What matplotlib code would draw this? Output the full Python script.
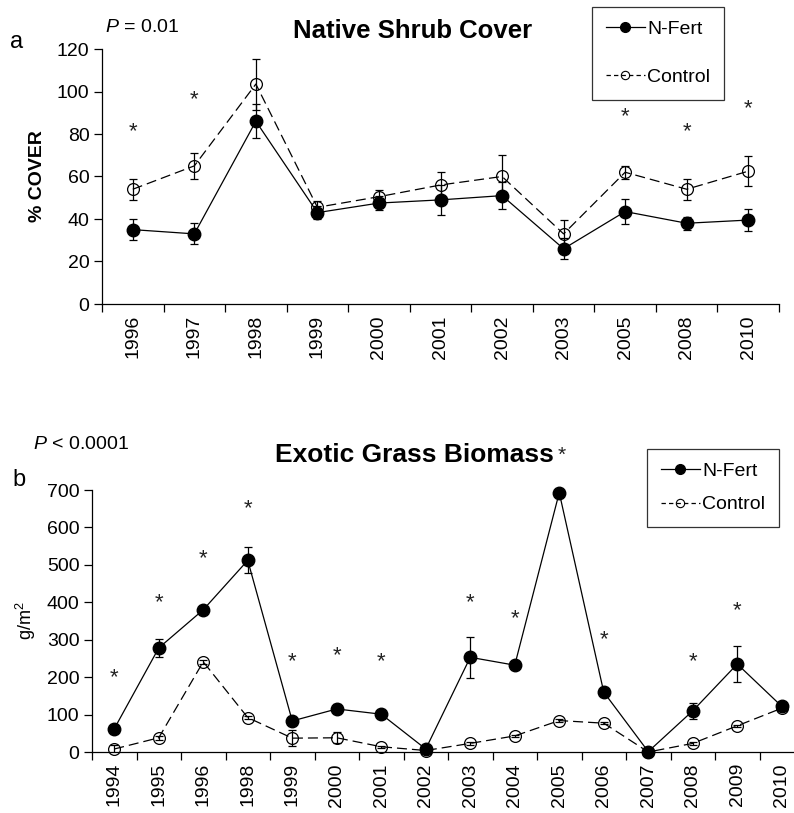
import numpy as np
import matplotlib
matplotlib.use("Agg")
import matplotlib.pyplot as plt
from matplotlib.lines import Line2D

plt.rcParams["font.family"] = ["Liberation Sans", "DejaVu Sans"]
plt.rcParams["mathtext.fontset"] = "custom"
plt.rcParams["mathtext.it"] = "Liberation Sans:italic"
plt.rcParams["mathtext.rm"] = "Liberation Sans"

# panel a: native shrub cover (%)
years_a = ["1996", "1997", "1998", "1999", "2000", "2001", "2002", "2003", "2005", "2008", "2010"]
nfert_a = [35, 33, 86, 43, 47.5, 49, 51, 26, 43.5, 38, 39.5]
nfert_a_err = [5, 5, 8, 3, 3.5, 7, 6.5, 5, 6, 3, 5]
control_a = [54, 65, 103.5, 45.5, 50.5, 56, 60, 33, 62, 54, 62.5]
control_a_err = [5, 6, 12, 3, 3, 6, 10, 6.5, 3, 5, 7]
star_years_a = ["1996", "1997", "2005", "2008", "2010"]
star_vals_a = [81, 96, 88, 81, 92]

# panel b: exotic grass biomass (g/m2)
years_b = ["1994", "1995", "1996", "1998", "1999", "2000", "2001", "2002",
           "2003", "2004", "2005", "2006", "2007", "2008", "2009", "2010"]
nfert_b = [62, 278, 380, 512, 83, 115, 101, 8, 253, 232, 693, 160, 1, 110, 235, 122]
nfert_b_err = [5, 25, 5, 35, 5, 12, 10, 3, 55, 5, 8, 5, 2, 22, 47, 12]
control_b = [8, 38, 241, 92, 37, 38, 14, 4, 23, 43, 84, 77, 0, 23, 70, 117]
control_b_err = [10, 5, 5, 5, 22, 15, 3, 2, 3, 3, 3, 3, 1, 3, 3, 5]
star_years_b = ["1994", "1995", "1996", "1998", "1999", "2000", "2001",
                "2003", "2004", "2006", "2008", "2009"]
star_vals_b = [199, 399, 516, 649, 240, 257, 240, 399, 357, 299, 240, 377]

W, H = 794, 813
fig = plt.figure(figsize=(W / 100, H / 100), dpi=100)


def px(x, y):
    return x / W, 1 - y / H


def draw_panel(ax, years, nf, nf_err, ct, ct_err, star_years, star_vals, ymax, ystep):
    x = np.arange(len(years))
    ax.errorbar(x, ct, yerr=ct_err, fmt="none", ecolor="black", elinewidth=0.9,
                capsize=3, capthick=0.9, zorder=2)
    ax.errorbar(x, nf, yerr=nf_err, fmt="none", ecolor="black", elinewidth=0.9,
                capsize=3, capthick=0.9, zorder=2)
    ax.plot(x, ct, color="black", lw=0.9, dashes=(8, 4), marker="o", ms=8.5,
            mfc="none", mec="black", mew=0.9, zorder=3, clip_on=False)
    ax.plot(x, nf, color="black", lw=0.9, marker="o", ms=9, mfc="black",
            mec="black", zorder=4, clip_on=False)
    for yr, v in zip(star_years, star_vals):
        ax.text(years.index(yr), v, "*", ha="center", va="center", fontsize=16,
                color="#222222")

    ax.set_xlim(-0.5, len(years) - 0.5)
    ax.set_ylim(0, ymax)
    ax.set_yticks(np.arange(0, ymax + 1, ystep))
    ax.set_xticks(x)
    ax.set_xticklabels(years, rotation=90)
    ax.set_xticks(np.arange(len(years) + 1) - 0.5, minor=True)
    ax.tick_params(axis="x", which="major", length=0, pad=8, labelsize=14)
    ax.tick_params(axis="x", which="minor", length=6, width=0.9)
    ax.tick_params(axis="y", length=6, width=0.9, labelsize=14, pad=3)
    for s in ["top", "right"]:
        ax.spines[s].set_visible(False)
    for s in ["left", "bottom"]:
        ax.spines[s].set_linewidth(0.9)


def add_legend(ax, anchor, spacing):
    handles = [
        Line2D([], [], color="black", lw=0.9, marker="o", ms=7, mfc="black"),
        Line2D([], [], color="black", lw=0.9, dashes=(3.5, 2.5), marker="o", ms=6,
               mfc="none", mew=0.8),
    ]
    leg = ax.legend(handles, ["N-Fert", "Control"], loc="upper left",
                    bbox_to_anchor=anchor, bbox_transform=fig.transFigure,
                    fontsize=14, frameon=True, fancybox=False, borderaxespad=0,
                    handlelength=2.0, handletextpad=0.15, labelspacing=spacing,
                    borderpad=0.7)
    leg.get_frame().set_edgecolor("black")
    leg.get_frame().set_linewidth(0.9)


# panel a
ax1 = fig.add_axes([102 / W, 1 - 304 / H, 677 / W, 255 / H])
draw_panel(ax1, years_a, nfert_a, nfert_a_err, control_a, control_a_err,
           star_years_a, star_vals_a, 120, 20)
ax1.set_ylabel("% COVER", fontsize=14, fontweight="bold", labelpad=8)
add_legend(ax1, px(592, 7), 1.55)
fig.text(*px(413, 31), "Native Shrub Cover", ha="center", va="center",
         fontsize=18.5, fontweight="bold")
fig.text(*px(105, 27), "$P$ = 0.01", ha="left", va="center", fontsize=14)
fig.text(*px(10, 42), "a", ha="left", va="center", fontsize=17)

# panel b
ax2 = fig.add_axes([92 / W, 1 - 752 / H, 712 / W, 262 / H])
draw_panel(ax2, years_b, nfert_b, nfert_b_err, control_b, control_b_err,
           star_years_b, star_vals_b, 700, 100)
ax2.set_ylabel("g/m$^2$", fontsize=13, labelpad=6)
add_legend(ax2, px(647, 449), 0.8)
fig.text(*px(414, 455), "Exotic Grass Biomass", ha="center", va="center",
         fontsize=19, fontweight="bold")
fig.text(*px(562, 455), "*", ha="center", va="center", fontsize=15,
         color="#222222")
fig.text(*px(33, 444), "$P$ < 0.0001", ha="left", va="center", fontsize=14)
fig.text(*px(12, 480), "b", ha="left", va="center", fontsize=17)

fig.savefig("out.png", dpi=100)
